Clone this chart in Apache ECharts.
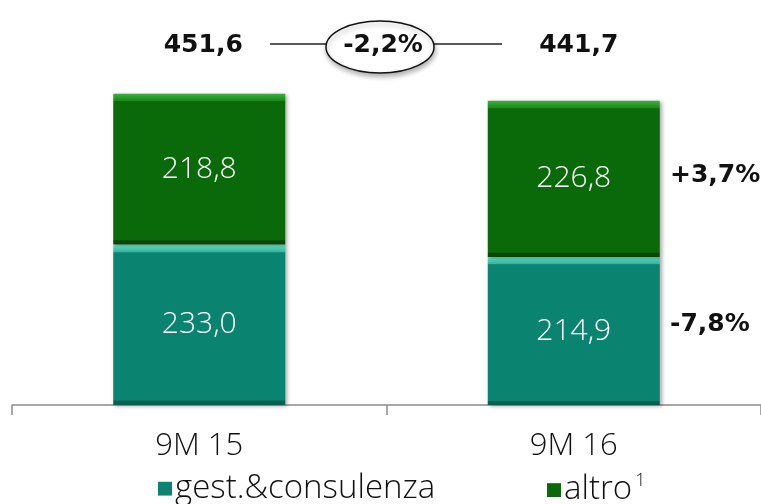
<!DOCTYPE html>
<html>
<head>
<meta charset="utf-8">
<script src="https://cdn.jsdelivr.net/npm/echarts@6/dist/echarts.min.js"></script>
<style>
  html, body { margin: 0; padding: 0; background: #ffffff; }
  #chart { width: 761px; height: 504px; }
</style>
</head>
<body>
<div id="chart"></div>
<script>
// Periods on the x axis
const periods = ['9M 15', '9M 16'];
// Revenue components (stacked, bottom to top)
const gestConsulenza = [233.0, 214.9];
const altro = [218.8, 226.8];
// Totals shown above each column and the change between them
const totals = [451.6, 441.7];
const totalChange = '-2,2%';
// Change of each component, shown beside the last column
const altroChange = '+3,7%';
const gestChange = '-7,8%';

const FONT = '"Open Sans", sans-serif';
const BOLD_FONT = '"DejaVu Sans", sans-serif';
const LIGHT = 300;
const fmt = v => v.toFixed(1).replace('.', ',');

function bevel(light, mid, base, dark) {
  return new echarts.graphic.LinearGradient(0, 0, 0, 1, [
    { offset: 0, color: light },
    { offset: 0.045, color: mid },
    { offset: 0.052, color: base },
    { offset: 0.97, color: base },
    { offset: 0.975, color: dark },
    { offset: 1, color: dark }
  ]);
}

const tealFill = bevel('#6fe0c8', '#33b79f', '#0a8470', '#07604f');
const greenFill = bevel('#3fb03f', '#1a8a1a', '#0a6a0a', '#064806');

const chart = echarts.init(document.getElementById('chart'), null, { renderer: 'canvas' });

const barLabel = {
  show: true,
  position: 'inside',
  color: '#ffffff',
  fontFamily: FONT,
  fontSize: 30,
  fontWeight: LIGHT,
  formatter: p => fmt(p.value)
};

chart.setOption({
  animation: false,
  backgroundColor: '#ffffff',
  grid: { left: 12, right: -2, top: 60.5, bottom: 99 },
  xAxis: {
    type: 'category',
    data: periods,
    axisLine: { lineStyle: { color: '#8a8a8a', width: 1.5 } },
    axisTick: { show: true, length: 10, lineStyle: { color: '#8a8a8a', width: 1.5 } },
    axisLabel: { color: '#111111', fontFamily: FONT, fontWeight: LIGHT, fontSize: 31, margin: 26 }
  },
  yAxis: { type: 'value', min: 0, max: 500, show: false },
  legend: [
    {
      data: ['gest.&consulenza'],
      left: 153, top: 467,
      itemWidth: 14, itemHeight: 14, itemGap: 0,
      icon: 'rect',
      textStyle: { color: '#111111', fontFamily: FONT, fontWeight: LIGHT, fontSize: 33, padding: [0, 0, 0, -2] }
    },
    {
      data: ['altro'],
      left: 542, top: 467,
      itemWidth: 14, itemHeight: 14, itemGap: 0,
      icon: 'rect',
      formatter: name => '{b|' + name + '}{s|1}',
      textStyle: {
        color: '#111111', fontFamily: FONT, fontSize: 33, padding: [0, 0, 0, -2],
        rich: {
          b: { fontFamily: FONT, fontWeight: LIGHT, fontSize: 33, color: '#111111' },
          s: { fontFamily: FONT, fontWeight: LIGHT, fontSize: 18, color: '#111111', verticalAlign: 'top', padding: [0, 0, 18, 3] }
        }
      }
    }
  ],
  series: [
    {
      name: 'gest.&consulenza',
      type: 'bar',
      stack: 'ricavi',
      barWidth: 172,
      data: gestConsulenza,
      itemStyle: {
        color: tealFill,
        shadowBlur: 4, shadowOffsetX: 2, shadowOffsetY: 1, shadowColor: 'rgba(0,0,0,0.35)'
      },
      label: barLabel
    },
    {
      name: 'altro',
      type: 'bar',
      stack: 'ricavi',
      barWidth: 172,
      data: altro,
      itemStyle: {
        color: greenFill,
        shadowBlur: 4, shadowOffsetX: 2, shadowOffsetY: 1, shadowColor: 'rgba(0,0,0,0.35)'
      },
      label: barLabel
    }
  ]
});

// Annotations placed from the chart's own scales
const x0 = chart.convertToPixel({ xAxisIndex: 0 }, periods[0]);
const x1 = chart.convertToPixel({ xAxisIndex: 0 }, periods[1]);
const yAltro = chart.convertToPixel({ yAxisIndex: 0 }, gestConsulenza[1] + altro[1] / 2);
const yGest = chart.convertToPixel({ yAxisIndex: 0 }, gestConsulenza[1] / 2);
const totalY = 45;
const midX = 380;
const boldText = (text, x, y, align) => ({
  type: 'text', x, y,
  style: {
    text, x: 0, y: 0, align: align || 'center', verticalAlign: 'middle',
    fill: '#111111', font: 'bold 25px ' + BOLD_FONT
  }
});

chart.setOption({
  graphic: [
    boldText(fmt(totals[0]), x0 + 4, totalY),
    boldText(fmt(totals[1]), x1 + 5, totalY),
    { type: 'line', shape: { x1: 270, y1: totalY - 1, x2: midX - 54, y2: totalY - 1 }, style: { stroke: '#222', lineWidth: 1.3 } },
    { type: 'line', shape: { x1: midX + 54, y1: totalY - 1, x2: 502, y2: totalY - 1 }, style: { stroke: '#222', lineWidth: 1.3 } },
    {
      type: 'ellipse',
      shape: { cx: midX, cy: totalY + 2, rx: 54, ry: 26 },
      style: { fill: '#ffffff', stroke: '#111111', lineWidth: 1.5, shadowBlur: 5, shadowOffsetX: 1, shadowOffsetY: 3, shadowColor: 'rgba(0,0,0,0.3)' }
    },
    boldText(totalChange, midX + 3, totalY),
    boldText(altroChange, 670, yAltro - 3, 'left'),
    boldText(gestChange, 670, yGest - 6, 'left')
  ]
});
</script>
</body>
</html>
